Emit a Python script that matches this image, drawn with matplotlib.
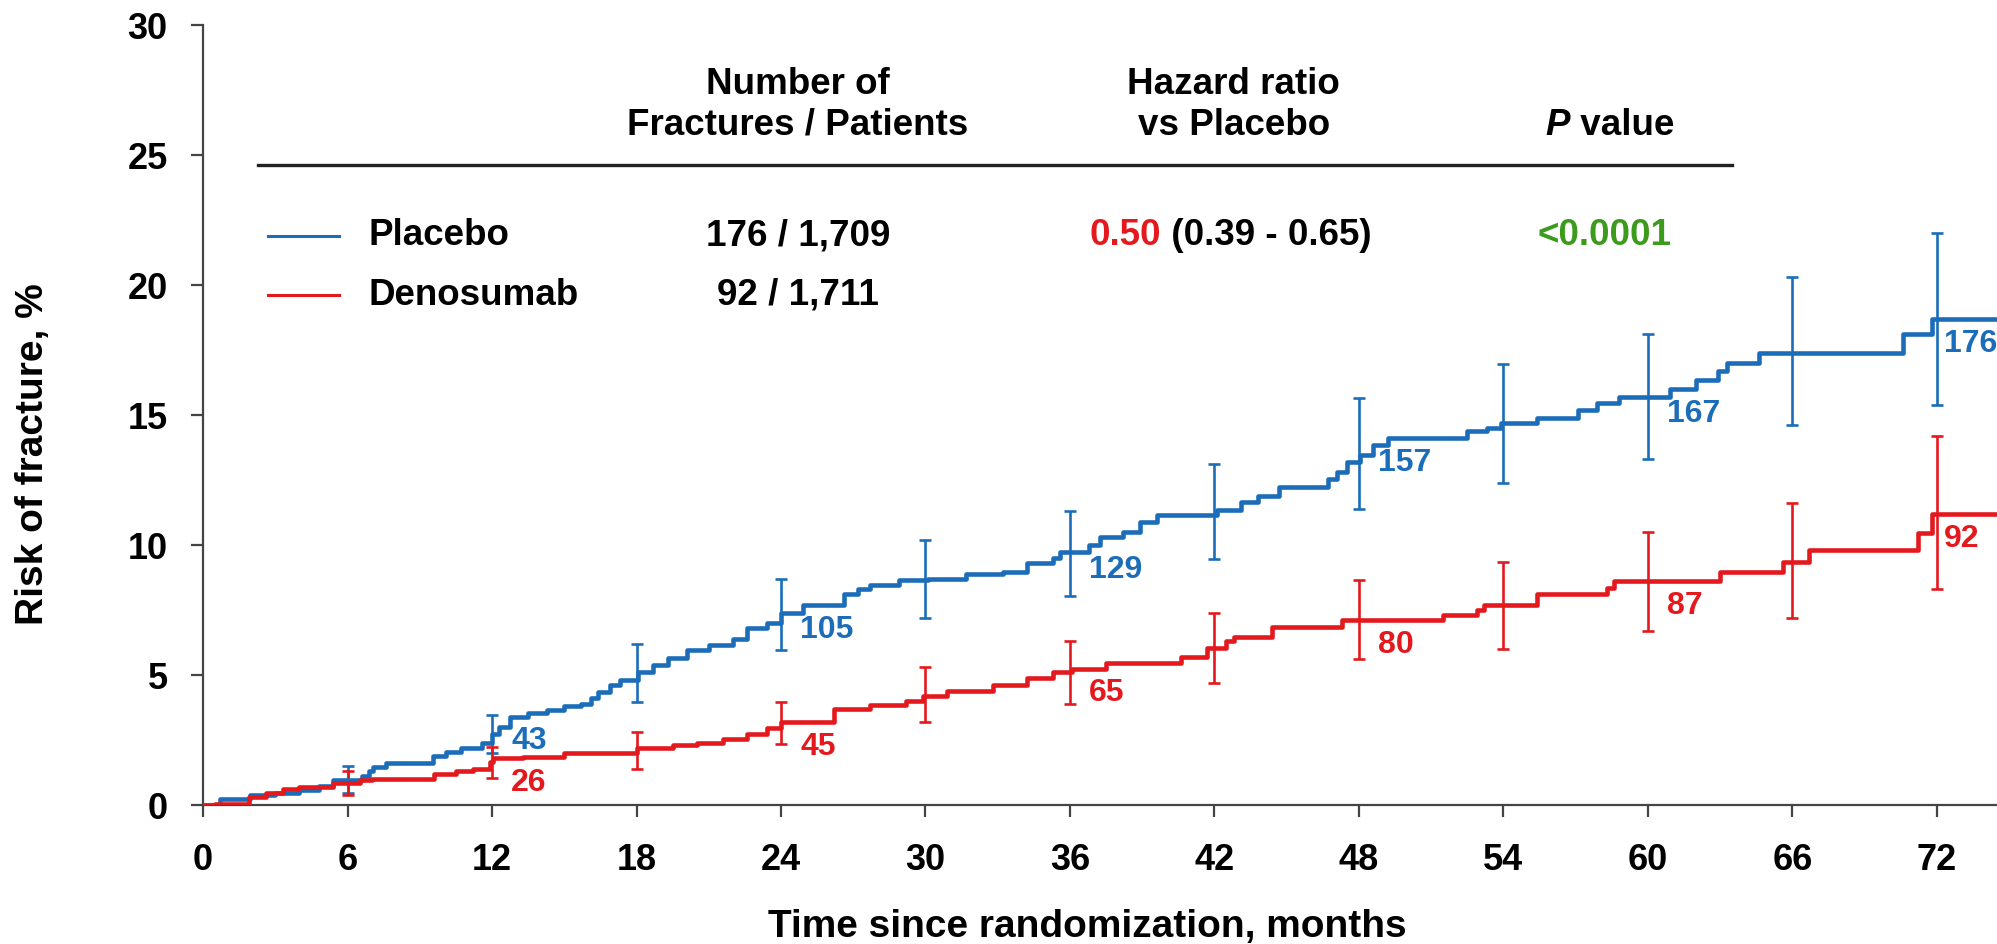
import numpy as np
import matplotlib
matplotlib.use("Agg")
import matplotlib.pyplot as plt

# Kaplan-Meier cumulative incidence of new fracture, % (step points)
placebo_t = [0, 0.7, 1.95, 3.0, 4.0, 4.8, 5.4, 6.6, 6.9, 7.06, 7.6, 9.55, 10.1, 10.7,
             11.6, 12.0, 12.3, 12.75, 13.5, 14.3, 15.0, 15.7, 16.1, 16.4, 16.9, 17.3,
             18.07, 18.7, 19.3, 20.1, 21.0, 22.0, 22.6, 23.4, 24.0, 24.9, 26.6, 27.2,
             27.7, 28.9, 30.1, 31.7, 33.2, 34.2, 35.3, 35.6, 36.8, 37.25, 38.2, 38.9,
             39.6, 42.1, 43.1, 43.8, 44.7, 46.7, 47.1, 47.5, 48.05, 48.6, 49.2, 52.5,
             53.3, 53.9, 55.4, 57.1, 57.9, 58.8, 60.9, 62.0, 62.9, 63.3, 64.6, 70.6,
             71.8, 74.5]
placebo_v = [0, 0.23, 0.38, 0.45, 0.58, 0.75, 0.96, 1.1, 1.3, 1.46, 1.6, 1.9, 2.05, 2.2,
             2.4, 2.75, 3.0, 3.4, 3.55, 3.65, 3.8, 3.9, 4.1, 4.35, 4.6, 4.8,
             5.1, 5.4, 5.65, 5.95, 6.15, 6.4, 6.8, 7.0, 7.4, 7.7, 8.1, 8.3,
             8.45, 8.65, 8.7, 8.9, 8.95, 9.3, 9.5, 9.75, 10.0, 10.3, 10.5, 10.9,
             11.15, 11.35, 11.65, 11.9, 12.25, 12.55, 12.8, 13.2, 13.45, 13.85, 14.1, 14.4,
             14.5, 14.7, 14.9, 15.2, 15.45, 15.7, 16.0, 16.35, 16.7, 17.0, 17.4, 18.1,
             18.7, 18.7]

deno_t = [0, 0.5, 1.9, 2.6, 3.3, 4.0, 5.4, 6.5, 7.0, 9.6, 10.5, 11.2, 11.9, 12.05,
          13.3, 15.0, 18.0, 19.5, 20.5, 21.6, 22.6, 23.4, 24.0, 26.2, 27.7, 29.2,
          29.9, 30.9, 32.8, 34.2, 35.3, 36.1, 37.5, 40.6, 41.7, 42.5, 42.8, 44.4,
          47.3, 51.5, 52.9, 53.2, 55.4, 58.3, 58.6, 63.0, 65.6, 66.7, 71.2, 71.8, 74.5]
deno_v = [0, 0.05, 0.3, 0.45, 0.6, 0.7, 0.85, 0.95, 1.0, 1.2, 1.3, 1.4, 1.65, 1.8,
          1.85, 2.0, 2.2, 2.3, 2.4, 2.55, 2.75, 2.95, 3.2, 3.7, 3.85, 4.0,
          4.2, 4.4, 4.6, 4.9, 5.1, 5.25, 5.45, 5.7, 6.05, 6.3, 6.45, 6.85,
          7.1, 7.3, 7.5, 7.7, 8.1, 8.35, 8.6, 8.95, 9.35, 9.8, 10.45, 11.2, 11.2]

# 95% CI at each 6-month visit
months = [6, 12, 18, 24, 30, 36, 42, 48, 54, 60, 66, 72]
placebo_lo = [0.45, 2.0, 3.95, 5.95, 7.2, 8.05, 9.45, 11.4, 12.4, 13.3, 14.6, 15.4]
placebo_hi = [1.5, 3.45, 6.2, 8.7, 10.2, 11.3, 13.1, 15.65, 16.95, 18.1, 20.3, 22.0]
deno_lo = [0.4, 1.05, 1.4, 2.35, 3.2, 3.9, 4.7, 5.6, 6.0, 6.7, 7.2, 8.3]
deno_hi = [1.3, 2.25, 2.8, 3.95, 5.3, 6.3, 7.4, 8.65, 9.35, 10.5, 11.6, 14.2]

# cumulative number of fractures, labelled every 12 months
count_months = [12, 24, 36, 48, 60, 72]
placebo_n = [43, 105, 129, 157, 167, 176]
deno_n = [26, 45, 65, 80, 87, 92]

blue = "#1c6db9"
red = "#e3191e"
green = "#3c9a1c"

plt.rcParams["font.family"] = ["Liberation Sans", "DejaVu Sans"]
plt.rcParams["font.weight"] = "bold"

fig = plt.figure(figsize=(19.97, 9.44), dpi=100)
ax = fig.add_axes([0.1017, 0.1472, 0.8983, 0.8263])


def step_value(ts, vs, x):
    i = np.searchsorted(ts, x, side="right") - 1
    return vs[i]


for ts, vs, lo, hi, col in [(placebo_t, placebo_v, placebo_lo, placebo_hi, blue),
                            (deno_t, deno_v, deno_lo, deno_hi, red)]:
    ax.plot(ts, vs, drawstyle="steps-post", color=col, lw=3.3, zorder=3)
    lo = np.array(lo)
    hi = np.array(hi)
    ax.errorbar(months, (lo + hi) / 2, yerr=(hi - lo) / 2, fmt="none",
                ecolor=col, elinewidth=1.9, capsize=4.5, capthick=1.9, zorder=2)

# count labels sit just right of each error bar; the last one is kept inside the frame
for m, n1, n2 in zip(count_months, placebo_n, deno_n):
    xl = min(m + 0.8, 72.3)
    ax.text(xl, step_value(placebo_t, placebo_v, m + 1.2) - 0.95, str(n1),
            color=blue, fontsize=23, fontweight="bold", ha="left", va="center")
    ax.text(xl, step_value(deno_t, deno_v, m + 1.2) - 0.95, str(n2),
            color=red, fontsize=23, fontweight="bold", ha="left", va="center")

# summary table in the upper part of the plot
fs = 26.5
hdr = dict(fontsize=fs, fontweight="bold", ha="center", va="center")
ax.text(24.7, 27.7, "Number of", **hdr)
ax.text(24.7, 26.15, "Fractures / Patients", **hdr)
ax.text(42.8, 27.7, "Hazard ratio", **hdr)
ax.text(42.8, 26.15, "vs Placebo", **hdr)
p = ax.text(55.75, 26.15, "P", fontsize=fs, fontweight="bold", fontstyle="italic",
            ha="left", va="center")
ax.annotate(" value", xy=(1, 0.5), xycoords=p, fontsize=fs, fontweight="bold",
            ha="left", va="center")
ax.plot([2.3, 63.5], [24.6, 24.6], color="#222222", lw=2.4, clip_on=False)

ax.plot([2.7, 5.65], [21.9, 21.9], color=blue, lw=2.2)
ax.plot([2.7, 5.65], [19.6, 19.6], color=red, lw=2.2)
ax.text(6.85, 21.9, "Placebo", fontsize=fs, fontweight="bold", va="center")
ax.text(6.85, 19.6, "Denosumab", fontsize=fs, fontweight="bold", va="center")
ax.text(24.7, 21.9, "176 / 1,709", **hdr)
ax.text(24.7, 19.6, "92 / 1,711", **hdr)
hr = ax.text(36.8, 21.9, "0.50", color=red, fontsize=fs, fontweight="bold", va="center")
ax.annotate(" (0.39 - 0.65)", xy=(1, 0.5), xycoords=hr, fontsize=fs,
            fontweight="bold", va="center", ha="left")
ax.text(58.2, 21.9, "<0.0001", color=green, **hdr)

ax.set_xlim(0, 74.5)
ax.set_ylim(0, 30)
ax.set_xticks(range(0, 73, 6))
ax.set_yticks(range(0, 31, 5))
ax.spines["top"].set_visible(False)
ax.spines["right"].set_visible(False)
for s in ["left", "bottom"]:
    ax.spines[s].set_color("#444444")
    ax.spines[s].set_linewidth(1.6)
ax.tick_params(axis="both", direction="out", length=8.5, width=1.6, color="#444444",
               labelsize=26)
ax.tick_params(axis="x", pad=19)
ax.tick_params(axis="y", pad=17)
for lab in ax.get_xticklabels() + ax.get_yticklabels():
    lab.set_fontweight("bold")

ax.set_xlabel("Time since randomization, months", fontsize=28, fontweight="bold")
ax.set_ylabel("Risk of fracture, %", fontsize=28, fontweight="bold")
ax.xaxis.set_label_coords(0.493, -0.133)
ax.yaxis.set_label_coords(-0.085, 0.45)

fig.savefig("out.png", dpi=100)
